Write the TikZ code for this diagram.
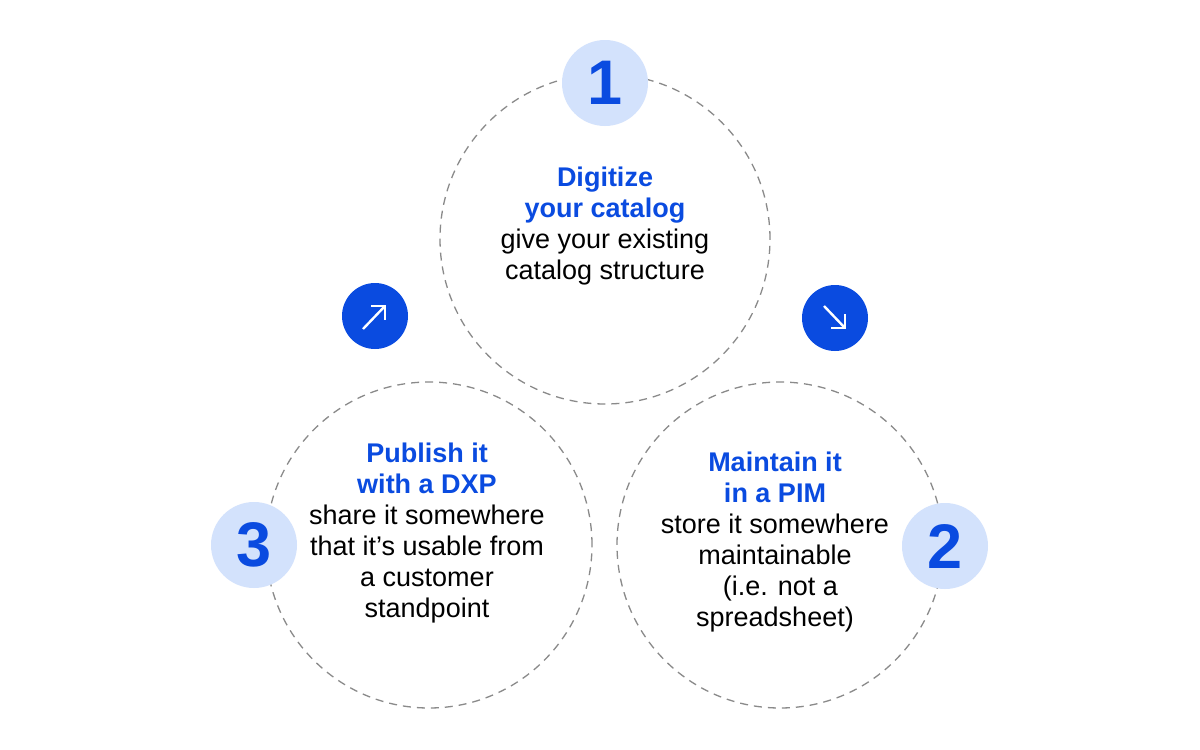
\documentclass[tikz,border=0pt]{standalone}
\usepackage{fontspec}
\setmainfont{Liberation Sans}
\definecolor{stepblue}{HTML}{0A4BE0}
\definecolor{badgefill}{HTML}{D3E2FC}
\definecolor{ringgray}{HTML}{8A8A8A}
\begin{document}
\begin{tikzpicture}[x=0.5pt,y=-0.5pt]
        \tikzstyle{every node}=[font=\fontsize{13.5pt}{15.5pt}\selectfont]
        \tikzstyle{ring}=[circle, draw=ringgray, line width=0.65pt, dash pattern=on 4pt off 3pt, inner sep=0pt]
        \tikzstyle{numbadge}=[circle, fill=badgefill, inner sep=0pt, minimum size=43pt, text=stepblue, font=\fontsize{31.5pt}{31.5pt}\selectfont\bfseries]
        \tikzstyle{arrowbadge}=[circle, fill=stepblue, inner sep=0pt, minimum size=33pt]
        \tikzstyle{arrowicon}=[white, line width=1.2pt]
        \tikzstyle{steptext}=[align=center, text=black]
        \useasboundingbox[fill=white] (0,0) rectangle (1200,750);
        % dashed rings
        \node[ring, minimum size=165pt] (digitize) at (605,239) {};
        \node[ring, minimum size=163pt] (maintain) at (780,545) {};
        \node[ring, minimum size=163pt] (publish) at (429,545) {};
        % numbered badges
        \node[numbadge] (one) at (605,83) {1};
        \node[numbadge] (two) at (945,546) {2};
        \node[numbadge] (three) at (254,545) {3};
        % arrow badges
        \node[arrowbadge] (up) at (375,316) {};
        \node[arrowbadge] (down) at (835,318) {};
        \draw[arrowicon] ([shift={(-12,13)}]up.center) -- ([shift={(10,-10)}]up.center);
        \draw[arrowicon] ([shift={(-4,-10)}]up.center) -- ([shift={(10,-10)}]up.center) -- ([shift={(10,4)}]up.center);
        \draw[arrowicon] ([shift={(-11,-12)}]down.center) -- ([shift={(10,10)}]down.center);
        \draw[arrowicon] ([shift={(-4,10)}]down.center) -- ([shift={(10,10)}]down.center) -- ([shift={(10,-4)}]down.center);
        % texts
        \node[steptext] (digitizetext) at (605,226) {\textcolor{stepblue}{\bfseries Digitize}\\\textcolor{stepblue}{\bfseries your catalog}\\give your existing\\catalog structure};
        \node[steptext] (maintaintext) at (775,542) {\textcolor{stepblue}{\bfseries Maintain it}\\\textcolor{stepblue}{\bfseries in a PIM}\\store it somewhere\\maintainable\\\hspace{0.4em}(i.e. not a\\spreadsheet)};
        \node[steptext] (publishtext) at (427,533) {\textcolor{stepblue}{\bfseries Publish it}\\\textcolor{stepblue}{\bfseries with a DXP}\\share it somewhere\\that it’s usable from\\a customer\\standpoint};
    \end{tikzpicture}
\end{document}
